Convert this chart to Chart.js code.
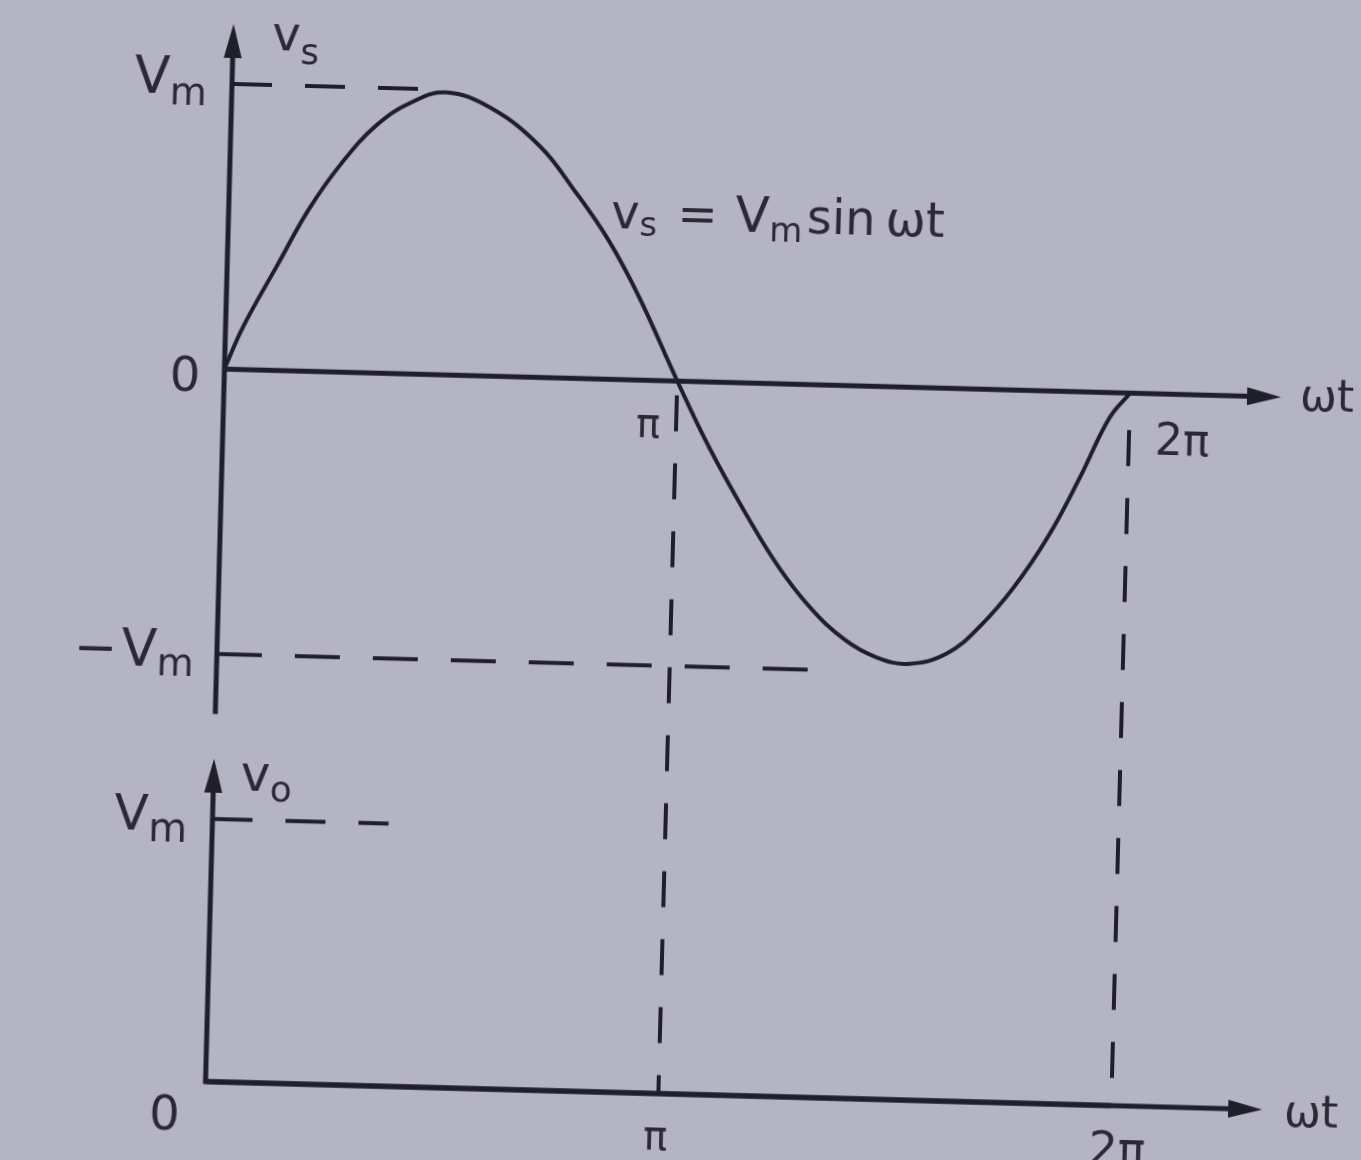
<!DOCTYPE html>
<html>
<head>
<meta charset="utf-8">
<title>Input and output voltage</title>
<script src="https://cdn.jsdelivr.net/npm/chart.js@4.4.1/dist/chart.umd.min.js"></script>
<style>
  html, body { margin: 0; padding: 0; background: #b5b4c4; overflow: hidden; }
  #sheet {
    position: relative; width: 1361px; height: 1160px;
    transform: rotate(1.52deg); transform-origin: 680px 580px;
  }
  #sheet canvas { position: absolute; left: 0; top: 0; }
</style>
</head>
<body>
<div id="sheet"><canvas id="waveChart" width="1361" height="1160"></canvas></div>
<script>
// angle in degrees, one full cycle
const wtDeg = [0, 7, 20, 32, 45, 58, 71, 85, 103, 123, 137, 151, 164, 180,
  194, 208, 222, 235, 249, 262, 275, 290, 303, 316, 329, 341, 352, 360];
// input voltage, as a fraction of Vm
const vsValues = [0, 0.15, 0.37, 0.57, 0.74, 0.87, 0.95, 0.99, 0.94, 0.81, 0.66, 0.49, 0.29, 0,
  -0.24, -0.45, -0.64, -0.78, -0.89, -0.95, -0.97, -0.93, -0.83, -0.69, -0.51, -0.30, -0.09, 0];
// output voltage stays at zero
const voWt = [0, 180, 360];
const voValues = [0, 0, 0];

const tickValues = [180, 360];
const tickLabels = ["π", "2π"];

// where the dashed guide lines stop (degrees / Vm units)
const vmGuideEnd = 74;
const negVmGuideEnd = 246;
const voGuideEnd = 70;
const dropTop = [-0.05, -0.13];

const INK = "#1f1e2b";
const TEXT = "#2a2935";
const FONT = "'DejaVu Sans', sans-serif";

const pts = (xs, ys) => xs.map((x, i) => ({ x: x, y: ys[i] }));

function guide(data, axis, dash) {
  return {
    data: data, yAxisID: axis, showLine: true, borderColor: INK, borderWidth: 4,
    borderDash: dash, pointRadius: 0, tension: 0, clip: false,
  };
}

// draw pieces of text one after another; sub pieces carry their own baseline shift
function textRun(ctx, x, y, pieces, align) {
  let total = 0;
  pieces.forEach((p) => {
    ctx.font = p.size + "px " + FONT;
    total += ctx.measureText(p.t).width + (p.gap || 0);
  });
  let cx = align === "right" ? x - total : align === "center" ? x - total / 2 : x;
  ctx.textBaseline = "alphabetic";
  ctx.textAlign = "left";
  pieces.forEach((p) => {
    ctx.font = p.size + "px " + FONT;
    ctx.fillText(p.t, cx, y + (p.dy || 0));
    cx += ctx.measureText(p.t).width + (p.gap || 0);
  });
}

function arrow(ctx, tx, ty, dir) {
  const len = 34, half = 9;
  ctx.beginPath();
  if (dir === "up") {
    ctx.moveTo(tx, ty);
    ctx.lineTo(tx - half, ty + len);
    ctx.lineTo(tx + half, ty + len);
  } else {
    ctx.moveTo(tx, ty);
    ctx.lineTo(tx - len, ty - half);
    ctx.lineTo(tx - len, ty + half);
  }
  ctx.closePath();
  ctx.fill();
}

const axesPlugin = {
  id: "axesPlugin",
  afterDraw(chart) {
    const ctx = chart.ctx;
    const { x, y, y2 } = chart.scales;
    const x0 = x.getPixelForValue(0);
    const xEnd = x.getPixelForValue(420);
    ctx.save();
    ctx.strokeStyle = INK;
    ctx.fillStyle = INK;
    ctx.lineWidth = 5;
    ctx.lineCap = "butt";

    // upper panel: vs against wt
    const yz = y.getPixelForValue(0);
    const yTop = y.getPixelForValue(1.21);
    ctx.beginPath();
    ctx.moveTo(x0, yTop + 30);
    ctx.lineTo(x0, y.getPixelForValue(-1.21));
    ctx.moveTo(x0, yz);
    ctx.lineTo(xEnd - 30, yz);
    ctx.stroke();
    arrow(ctx, x0, yTop, "up");
    arrow(ctx, xEnd, yz, "right");

    // lower panel: vo against wt
    const lz = y2.getPixelForValue(0);
    const lTop = y2.getPixelForValue(1.23);
    ctx.beginPath();
    ctx.moveTo(x0, lTop + 30);
    ctx.lineTo(x0, lz);
    ctx.lineTo(xEnd - 30, lz);
    ctx.stroke();
    arrow(ctx, x0, lTop, "up");
    arrow(ctx, xEnd, lz, "right");

    // labels
    ctx.fillStyle = TEXT;
    const y1 = y.getPixelForValue(1), yn1 = y.getPixelForValue(-1);
    textRun(ctx, x0 - 25, y1 + 11, [{ t: "V", size: 52 }, { t: "m", size: 38, dy: 11 }], "right");
    textRun(ctx, x0 + 39, y1 - 35, [{ t: "v", size: 48 }, { t: "s", size: 36, dy: 13 }]);
    textRun(ctx, x0 - 24, yz + 23, [{ t: "0", size: 48 }], "right");
    textRun(ctx, x0 - 23, yn1 + 14, [{ t: "−", size: 52, gap: 4 }, { t: "V", size: 52 }, { t: "m", size: 38, dy: 9 }], "right");
    textRun(ctx, x.getPixelForValue(tickValues[0]) - 28, yz + 57, [{ t: tickLabels[0], size: 40 }], "center");
    textRun(ctx, x.getPixelForValue(tickValues[1]) + 26, yz + 61, [{ t: tickLabels[1], size: 44 }]);
    textRun(ctx, xEnd + 19, yz + 13, [{ t: "ωt", size: 44 }]);
    textRun(ctx, x.getPixelForValue(152), y.getPixelForValue(0.53), [
      { t: "v", size: 48 }, { t: "s", size: 34, dy: 7, gap: 20 },
      { t: "=", size: 48, gap: 18 },
      { t: "V", size: 50 }, { t: "m", size: 34, dy: 9, gap: 4 },
      { t: "sin", size: 48, gap: 10 }, { t: "ωt", size: 48 },
    ]);

    const l1 = y2.getPixelForValue(1);
    textRun(ctx, x0 + 27, l1 - 29, [{ t: "v", size: 50 }, { t: "o", size: 36, dy: 10 }]);
    textRun(ctx, x0 - 25, l1 + 13, [{ t: "V", size: 50 }, { t: "m", size: 40, dy: 11 }], "right");
    textRun(ctx, x0 - 25, lz + 49, [{ t: "0", size: 48 }], "right");
    textRun(ctx, x.getPixelForValue(tickValues[0]) - 2, lz + 56, [{ t: tickLabels[0], size: 40 }], "center");
    textRun(ctx, x.getPixelForValue(tickValues[1]) + 7, lz + 59, [{ t: tickLabels[1], size: 46 }], "center");
    textRun(ctx, xEnd + 22, lz + 16, [{ t: "ωt", size: 44 }]);
    ctx.restore();
  },
};

new Chart(document.getElementById("waveChart"), {
  type: "scatter",
  data: {
    datasets: [
      {
        label: "vs",
        data: pts(wtDeg, vsValues),
        yAxisID: "y",
        showLine: true,
        borderColor: INK,
        borderWidth: 4,
        pointRadius: 0,
        tension: 0.4,
        clip: false,
      },
      {
        label: "vo",
        data: pts(voWt, voValues),
        yAxisID: "y2",
        showLine: true,
        borderColor: INK,
        borderWidth: 5,
        pointRadius: 0,
        clip: false,
      },
      guide([{ x: 0, y: 1 }, { x: vmGuideEnd, y: 1 }], "y", [40, 33]),
      guide([{ x: 0, y: -1 }, { x: negVmGuideEnd, y: -1 }], "y", [45, 33]),
      guide([{ x: 0, y: 1 }, { x: voGuideEnd, y: 1 }], "y2", [40, 33]),
      guide([{ x: tickValues[0], y: dropTop[0] }, { x: tickValues[0], y: -2.5 }], "y", [36, 32]),
      guide([{ x: tickValues[1], y: dropTop[1] }, { x: tickValues[1], y: -2.5 }], "y", [36, 32]),
    ],
  },
  options: {
    responsive: false,
    animation: false,
    layout: { padding: { left: 219, right: 236, top: 96, bottom: 66 } },
    scales: {
      x: { type: "linear", min: 0, max: 360, display: false },
      // vs panel: zero line sits 2.5 Vm above the vo zero line
      y: { type: "linear", min: -2.5, max: 1, display: false },
      y2: { type: "linear", min: 0, max: 3.8, display: false },
    },
    plugins: { legend: { display: false }, tooltip: { enabled: false } },
  },
  plugins: [axesPlugin],
});
</script>
</body>
</html>
